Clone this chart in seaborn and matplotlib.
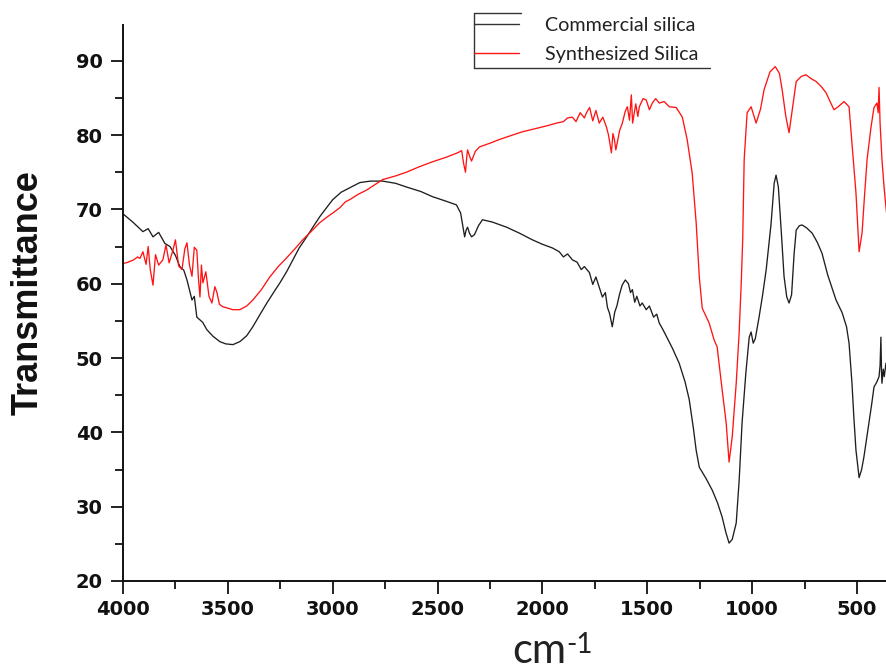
import numpy as np
import pandas as pd
import matplotlib
matplotlib.use("Agg")
import matplotlib.pyplot as plt
from matplotlib.lines import Line2D
from matplotlib.ticker import MultipleLocator
import seaborn as sns

# ---- data ----
commercial_x = [4000, 3950, 3905, 3880, 3857, 3830, 3800, 3776, 3750, 3729, 3710, 3695, 3671, 3660,
                3648, 3620, 3600, 3570, 3538, 3510, 3476, 3443, 3410, 3381, 3350, 3314, 3280, 3252,
                3220, 3190, 3160, 3124, 3090, 3062, 3030, 3000, 2960, 2919, 2871, 2820, 2762, 2700,
                2648, 2580, 2524, 2460, 2410, 2390, 2378, 2371, 2364, 2357, 2348, 2338, 2324, 2305,
                2286, 2240, 2171, 2110, 2048, 2000, 1952, 1920, 1900, 1880, 1857, 1835, 1815, 1800,
                1776, 1760, 1745, 1729, 1714, 1700, 1690, 1680, 1667, 1655, 1645, 1633, 1620, 1605,
                1590, 1580, 1571, 1560, 1550, 1535, 1524, 1505, 1490, 1470, 1455, 1443, 1425, 1405,
                1380, 1348, 1320, 1300, 1280, 1267, 1252, 1220, 1190, 1165, 1143, 1125, 1110, 1095,
                1076, 1062, 1048, 1030, 1014, 1005, 995, 985, 967, 950, 933, 910, 895, 886, 875, 860,
                848, 835, 824, 812, 800, 790, 775, 762, 740, 714, 690, 667, 640, 620, 600, 571, 550,
                538, 524, 515, 505, 490, 478, 467, 455, 443, 430, 419, 405, 395, 390, 386, 383, 381,
                375, 370, 362, 357]
commercial_y = [69.4, 68.2, 67.0, 67.4, 66.3, 66.9, 65.4, 65.0, 63.8, 62.3, 61.8, 60.5, 57.8, 58.3,
                55.5, 54.8, 53.8, 52.9, 52.2, 51.9, 51.8, 52.2, 53.0, 54.2, 55.7, 57.4, 58.9, 60.1,
                61.6, 63.2, 64.8, 66.3, 67.8, 69.0, 70.2, 71.3, 72.3, 72.9, 73.6, 73.8, 73.8, 73.5,
                73.0, 72.4, 71.7, 71.1, 70.6, 69.5, 67.5, 66.3, 67.2, 67.6, 66.8, 66.3, 66.6, 67.8,
                68.6, 68.3, 67.6, 66.8, 65.9, 65.3, 64.8, 64.3, 63.6, 64.0, 63.2, 62.9, 61.9, 62.3,
                61.5, 59.9, 60.9, 59.5, 58.2, 58.8, 56.8, 56.0, 54.2, 56.2, 57.0, 58.5, 59.8, 60.5,
                60.0, 58.8, 59.2, 57.5, 58.3, 57.0, 57.4, 56.5, 57.0, 55.5, 55.9, 54.7, 53.8, 52.7,
                51.3, 49.3, 46.8, 44.4, 40.5, 37.6, 35.3, 33.8, 32.2, 30.5, 28.6, 26.5, 25.1, 25.6,
                27.8, 33.5, 41.3, 48.0, 52.8, 53.5, 52.0, 52.6, 55.5, 58.5, 61.9, 68.0, 73.5, 74.6, 73.0, 66.5,
                61.0, 58.2, 57.4, 58.5, 64.0, 67.2, 67.8, 67.9, 67.5, 66.8, 65.6, 64.1, 61.2, 59.5, 57.8, 56.1, 54.2,
                52.0, 46.6, 42.0, 37.6, 33.9, 35.0, 36.7, 39.0, 41.3, 43.8, 46.1, 46.8, 47.5, 49.0, 52.8, 48.0, 46.6,
                48.5, 47.5, 49.3, 48.0]

synth_x = [4000, 3975, 3950, 3930, 3919, 3905, 3890, 3880, 3870, 3857, 3845, 3830, 3810, 3795, 3780,
           3762, 3750, 3735, 3719, 3705, 3695, 3683, 3671, 3660, 3648, 3640, 3633, 3626, 3619, 3605,
           3590, 3576, 3562, 3552, 3540, 3524, 3500, 3476, 3443, 3410, 3381, 3340, 3300, 3260, 3219,
           3180, 3143, 3100, 3062, 3030, 3000, 2967, 2940, 2919, 2880, 2838, 2800, 2762, 2700, 2648,
           2590, 2524, 2460, 2405, 2385, 2376, 2367, 2361, 2357, 2348, 2338, 2320, 2300, 2250, 2205,
           2100, 2014, 1970, 1933, 1900, 1880, 1857, 1840, 1820, 1800, 1790, 1775, 1760, 1745, 1729,
           1712, 1695, 1685, 1671, 1664, 1657, 1650, 1643, 1632, 1619, 1605, 1595, 1585, 1576, 1570,
           1555, 1545, 1538, 1520, 1505, 1490, 1476, 1460, 1443, 1420, 1395, 1362, 1333, 1310, 1286,
           1267, 1252, 1238, 1205, 1181, 1167, 1143, 1124, 1110, 1095, 1076, 1062, 1052, 1045, 1038,
           1024, 1005, 981, 960, 943, 915, 890, 870, 857, 840, 824, 808, 790, 765, 743, 720, 695, 670,
           648, 630, 610, 590, 562, 538, 524, 505, 490, 476, 465, 452, 433, 419, 405, 399, 395, 390,
           381, 371, 362, 357]
synth_y = [62.7, 62.9, 63.2, 63.6, 63.4, 64.3, 62.6, 65.0, 61.9, 59.8, 63.9, 62.5, 63.2, 65.2, 62.8,
           64.5, 65.9, 62.4, 61.9, 64.7, 65.5, 62.5, 61.0, 64.9, 64.5, 60.6, 58.2, 62.5, 60.1, 61.6,
           58.3, 57.4, 59.6, 58.8, 57.2, 56.9, 56.7, 56.5, 56.5, 57.0, 57.8, 59.2, 60.9, 62.3, 63.5,
           64.7, 65.9, 67.1, 68.2, 68.9, 69.5, 70.2, 71.0, 71.3, 72.0, 72.6, 73.3, 74.0, 74.5, 75.0,
           75.7, 76.4, 77.0, 77.6, 77.9, 76.2, 75.0, 77.0, 78.0, 77.2, 76.5, 77.8, 78.4, 78.9, 79.4,
           80.4, 81.0, 81.3, 81.6, 81.8, 82.3, 82.4, 81.8, 83.0, 82.3, 83.0, 83.7, 81.9, 83.3, 81.6,
           82.4, 81.1, 80.0, 77.6, 80.2, 79.4, 78.0, 79.0, 80.6, 81.6, 83.2, 83.8, 82.0, 85.4, 81.6,
           84.2, 82.5, 83.8, 84.9, 84.7, 83.4, 84.3, 84.9, 84.3, 84.5, 83.8, 83.7, 82.4, 79.4, 74.9,
           68.2, 60.9, 56.7, 54.7, 52.4, 51.5, 45.7, 41.3, 36.0, 39.4, 46.6, 53.4, 60.1, 66.0, 76.7,
           83.0, 83.8, 81.6, 83.5, 86.1, 88.5, 89.2, 88.3, 86.1, 82.6, 80.3, 83.5, 87.2, 87.9, 88.1, 87.6, 87.2, 86.5,
           85.7, 84.6, 83.4, 83.8, 84.5, 83.8, 78.9, 72.2, 64.3, 66.8, 71.5, 76.7, 81.1, 83.7, 84.3, 83.0, 86.4, 81.6,
           76.7, 73.0, 70.3, 69.0]

labels = ["Commercial silica", "Synthesized Silica"]
x_ticks = [4000, 3500, 3000, 2500, 2000, 1500, 1000, 500]
y_ticks = [20, 30, 40, 50, 60, 70, 80, 90]

df = pd.concat([
    pd.DataFrame({"wn": commercial_x, "T": commercial_y, "sample": labels[0]}),
    pd.DataFrame({"wn": synth_x, "T": synth_y, "sample": labels[1]}),
], ignore_index=True)

sns.set_style("ticks")
plt.rcParams["font.family"] = ["Liberation Sans", "DejaVu Sans"]

W, H = 887, 671
fig = plt.figure(figsize=(W / 100, H / 100), dpi=100)
ax = fig.add_axes([123 / W, 90 / H, 764 / W, 556 / H])

sns.lineplot(data=df, x="wn", y="T", hue="sample", palette=["#1e1e1e", "#ff1414"],
             sort=False, estimator=None, linewidth=0.95, ax=ax, legend=False)

ax.set_xlim(4000, 357)
ax.set_ylim(20, 94.8)
ax.set_xticks(x_ticks)
ax.set_yticks(y_ticks)
ax.xaxis.set_minor_locator(MultipleLocator(250))
ax.yaxis.set_minor_locator(MultipleLocator(5))
for lab in ax.get_xticklabels() + ax.get_yticklabels():
    lab.set_fontweight("bold")
    lab.set_fontsize(14)
    lab.set_fontfamily(["DejaVu Sans"])
    lab.set_color("#111111")
ax.tick_params(which="major", direction="out", length=9, width=1.3, color="#111111")
ax.tick_params(axis="y", which="major", pad=5.5)
ax.tick_params(axis="x", which="major", pad=4.5)
ax.tick_params(which="minor", direction="out", length=5.5, width=1.3, color="#111111")
for s in ["top", "right"]:
    ax.spines[s].set_visible(False)
for s in ["left", "bottom"]:
    ax.spines[s].set_linewidth(1.4)
    ax.spines[s].set_color("#111111")

# y label
ax.set_ylabel("Transmittance", fontsize=26, fontweight="bold", color="#111111")
ax.yaxis.label.set_va("center")
ax.yaxis.label.set_ha("center")
ax.yaxis.set_label_coords((28.5 - 123) / 764, (581 - 292.5) / 556)

# x label: "cm" with a superscript "-1"
ax.set_xlabel("cm", fontsize=30, fontfamily=["Lato", "DejaVu Sans"], color="#222222")
ax.xaxis.label.set_va("bottom")
ax.xaxis.label.set_ha("left")
ax.xaxis.set_label_coords((512 - 123) / 764, -(670 - 581) / 556)
ax.text((566 - 123) / 764, -(653 - 581) / 556, "-1", transform=ax.transAxes,
        fontsize=20, fontfamily=["Lato", "DejaVu Sans"], color="#222222",
        ha="left", va="baseline")

# legend
handles = [Line2D([], [], color="#333333", lw=1.0), Line2D([], [], color="#ff1414", lw=1.0)]
leg = fig.legend(handles, labels, loc="upper left", bbox_to_anchor=(474 / W, 1 - 17 / H),
                 frameon=False, prop={"family": ["Lato", "DejaVu Sans"], "size": 14.2},
                 handlelength=2.3, handletextpad=1.3,
                 labelspacing=0.62, borderpad=0, borderaxespad=0, labelcolor="#222222")
# partial frame lines like the reference
fig.add_artist(Line2D([474 / W, 521 / W], [1 - 13 / H, 1 - 13 / H], color="#333333", lw=1.0))
fig.add_artist(Line2D([474 / W, 474 / W], [1 - 13 / H, 1 - 68 / H], color="#333333", lw=1.0))
fig.add_artist(Line2D([474 / W, 710 / W], [1 - 68 / H, 1 - 68 / H], color="#333333", lw=1.0))

fig.savefig("out.png", dpi=100)
